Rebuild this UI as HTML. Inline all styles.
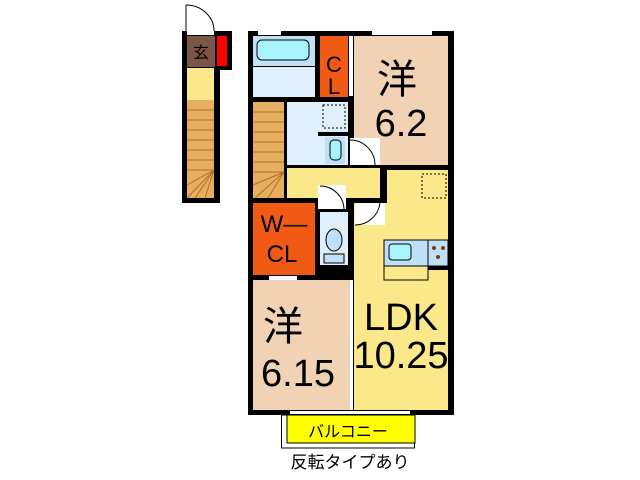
<!DOCTYPE html>
<html><head><meta charset="utf-8"><style>
body{margin:0;width:640px;height:480px;background:#fff;position:relative;overflow:hidden;font-family:"Liberation Sans","Noto Sans CJK JP",sans-serif}
</style></head><body>
<svg width="640" height="480" style="position:absolute;left:0;top:0">
<path d="M186 5 A28 26 0 0 1 214 31" fill="none" stroke="#000"/>
<line x1="186" y1="5" x2="186" y2="31" stroke="#000"/>
<rect x="182" y="31" width="50" height="39" fill="#000"/>
<rect x="182" y="70" width="38" height="133" fill="#000"/>
<rect x="187" y="31" width="27" height="4" fill="#fff"/>
<rect x="187" y="36" width="28" height="31" fill="#7a5548"/>
<rect x="217" y="36" width="10" height="30" fill="#f00"/>
<text x="201" y="58" font-size="16" text-anchor="middle" font-family="Noto Sans CJK JP">玄</text>
<rect x="187" y="68" width="27" height="32" fill="#fbe88a"/>
<rect x="187" y="100" width="27" height="98" fill="#e6ae60"/>
<g stroke="#b07020" stroke-width="1">
<line x1="187" y1="110" x2="214" y2="110"/><line x1="187" y1="120" x2="214" y2="120"/><line x1="187" y1="130" x2="214" y2="130"/><line x1="187" y1="140" x2="214" y2="140"/><line x1="187" y1="150" x2="214" y2="150"/><line x1="187" y1="160" x2="214" y2="160"/><line x1="187" y1="170" x2="214" y2="170"/>
<line x1="214" y1="170" x2="187" y2="198"/><line x1="214" y1="170" x2="195" y2="198"/><line x1="214" y1="170" x2="205" y2="198"/><line x1="214" y1="170" x2="187" y2="185"/>
</g>
<rect x="248" y="31" width="206" height="384" fill="#000"/>
<rect x="253" y="36" width="62" height="30" fill="#bfe0f8"/>
<rect x="257" y="40" width="52" height="20" rx="5" fill="#a8f4fc" stroke="#000"/>
<rect x="253" y="67" width="62" height="30" fill="#dff0fc"/>
<rect x="320" y="36" width="28" height="61" fill="#f05a14"/>
<rect x="349" y="36" width="4" height="60" fill="#fff"/>
<rect x="354" y="36" width="94" height="129" fill="#f2d2b4"/>
<rect x="253" y="102" width="31" height="96" fill="#e6ae60"/>
<g stroke="#b07020"><line x1="253" y1="112" x2="284" y2="112"/><line x1="253" y1="122" x2="284" y2="122"/><line x1="253" y1="132" x2="284" y2="132"/><line x1="253" y1="142" x2="284" y2="142"/><line x1="253" y1="152" x2="284" y2="152"/><line x1="253" y1="162" x2="284" y2="162"/><line x1="253" y1="172" x2="284" y2="172"/><line x1="284" y1="172" x2="255" y2="198"/><line x1="284" y1="172" x2="268" y2="198"/><line x1="284" y1="172" x2="253" y2="185"/></g>
<rect x="287" y="102" width="61" height="63" fill="#dff0fc"/>
<rect x="323" y="105" width="22" height="23" fill="#dff0fc" stroke="#000" stroke-dasharray="2,2"/>
<rect x="318" y="132" width="32" height="4" fill="#000"/>
<rect x="325" y="137" width="20" height="27" fill="#bfe0f8"/>
<rect x="330" y="140" width="11" height="20" rx="4" fill="#a8f4fc" stroke="#000"/>
<rect x="287" y="168" width="93" height="30" fill="#fbe88a"/>
<rect x="350" y="138" width="30" height="27" fill="#fff"/>
<path d="M350 140 A25 25 0 0 1 375 165" fill="none" stroke="#000"/>
<rect x="387" y="170" width="61" height="240" fill="#fbe88a"/>
<rect x="354" y="203" width="94" height="207" fill="#fbe88a"/>
<rect x="422" y="174" width="24" height="24" fill="none" stroke="#000" stroke-dasharray="2,2"/>
<rect x="355" y="203" width="30" height="22" fill="#fff"/>
<path d="M355 225 A25 25 0 0 0 380 203" fill="none" stroke="#000"/>
<rect x="253" y="203" width="62" height="72" fill="#f05a14"/>
<rect x="320" y="212" width="28" height="53" fill="#dff0fc"/>
<rect x="318" y="185" width="28" height="24" fill="#fff"/>
<path d="M320 186 A24 24 0 0 1 344 209" fill="none" stroke="#000"/>
<ellipse cx="334" cy="240" rx="8" ry="11" fill="#bfe0f8" stroke="#000"/>
<rect x="324" y="254" width="20" height="9" fill="#bfe0f8" stroke="#000"/>
<rect x="253" y="280" width="97" height="130" fill="#f2d2b4"/>
<rect x="269" y="276" width="28" height="4" fill="#fff"/>
<rect x="350" y="280" width="3" height="130" fill="#fff"/>
<rect x="384" y="240" width="44" height="26" fill="#bfe0f8" stroke="#000"/>
<rect x="389" y="244" width="22" height="16" rx="3" fill="#a8f4fc" stroke="#000"/>
<rect x="428" y="240" width="20" height="26" fill="#bfe0f8" stroke="#000"/>
<circle cx="434" cy="248" r="2" fill="#7a3c10"/><circle cx="443" cy="248" r="2" fill="#7a3c10"/><circle cx="438" cy="257" r="2" fill="#7a3c10"/>
<rect x="428" y="266" width="20" height="4" fill="#000"/>
<rect x="384" y="266" width="44" height="14" fill="#fbe88a" stroke="#000"/>
<rect x="258" y="31" width="23" height="4" fill="#fff"/>
<rect x="372" y="31" width="60" height="4" fill="#fff"/>
<rect x="290" y="411" width="120" height="3" fill="#fff"/>
<rect x="281.5" y="415" width="133" height="33" fill="#fff" stroke="#000"/>
<rect x="287" y="415" width="128" height="28" fill="#ff0" stroke="#000"/>
<text x="348" y="437" font-size="16" text-anchor="middle" font-family="Noto Sans CJK JP">バルコニー</text>
<text x="350" y="468" font-size="17" text-anchor="middle" font-family="Noto Sans CJK JP">反転タイプあり</text>
<g font-family="Liberation Sans" font-size="38">
<text x="397" y="93" font-size="40" font-family="Noto Sans CJK JP" text-anchor="middle">洋</text>
<text x="401" y="136" text-anchor="middle">6.2</text>
<text x="334" y="72" font-size="22" text-anchor="middle">C</text>
<text x="334" y="94" font-size="22" text-anchor="middle">L</text>
<text x="284" y="232" font-size="24" text-anchor="middle">W—</text>
<text x="282" y="262" font-size="24" text-anchor="middle">CL</text>
<text x="283" y="340" font-size="40" font-family="Noto Sans CJK JP" text-anchor="middle">洋</text>
<text x="298" y="386" text-anchor="middle">6.15</text>
<text x="401" y="330" text-anchor="middle">LDK</text>
<text x="401" y="368" text-anchor="middle">10.25</text>
</g>
</svg>
</body></html>
